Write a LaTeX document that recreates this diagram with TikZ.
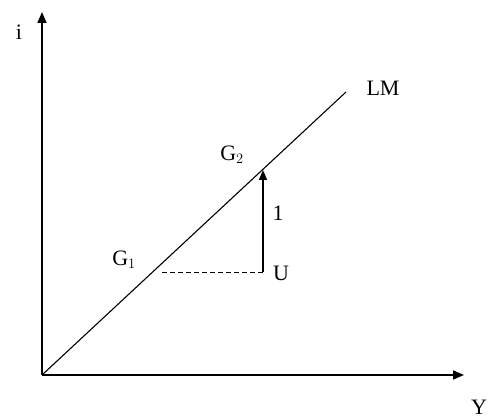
\documentclass[tikz,border=0pt]{standalone}
\usepackage{fontspec}
\setmainfont{Liberation Serif}
\usetikzlibrary{arrows.meta}
\begin{document}
\begin{tikzpicture}[x=1pt,y=-1pt,
  axis/.style={line width=1.6pt,-{Triangle[length=11pt,width=9pt]}},
  lbl/.style={font=\fontsize{22}{24}\selectfont,inner sep=0pt}]
\useasboundingbox (0,0) rectangle (490,419);
\coordinate (O) at (42,375);
\coordinate (ytop) at (42,12);
\coordinate (xend) at (464,375);
\coordinate (lmend) at (346,92);
\coordinate (U) at (263,272);
\coordinate (G2p) at (263,170);
\coordinate (dstart) at (162,272);
\draw[axis] (O) -- (ytop);
\draw[axis] (O) -- (xend);
\draw[line width=1.1pt] (O) -- (lmend);
\draw[line width=0.9pt,dashed,dash pattern=on 5pt off 3pt] (dstart) -- (U);
\draw[line width=1.6pt,-{Triangle[length=10pt,width=8pt]}] (U) -- (G2p);
\node[lbl] (i) at (19,32) {i};
\node[lbl] (Y) at (479,407) {Y};
\node[lbl] (LM) at (383,88) {LM};
\node[lbl] (G1) at (124,260) {G$_1$};
\node[lbl] (G2) at (232,155) {G$_2$};
\node[lbl] (one) at (278,213) {1};
\node[lbl] (Ul) at (281,273) {U};
\end{tikzpicture}
\end{document}
